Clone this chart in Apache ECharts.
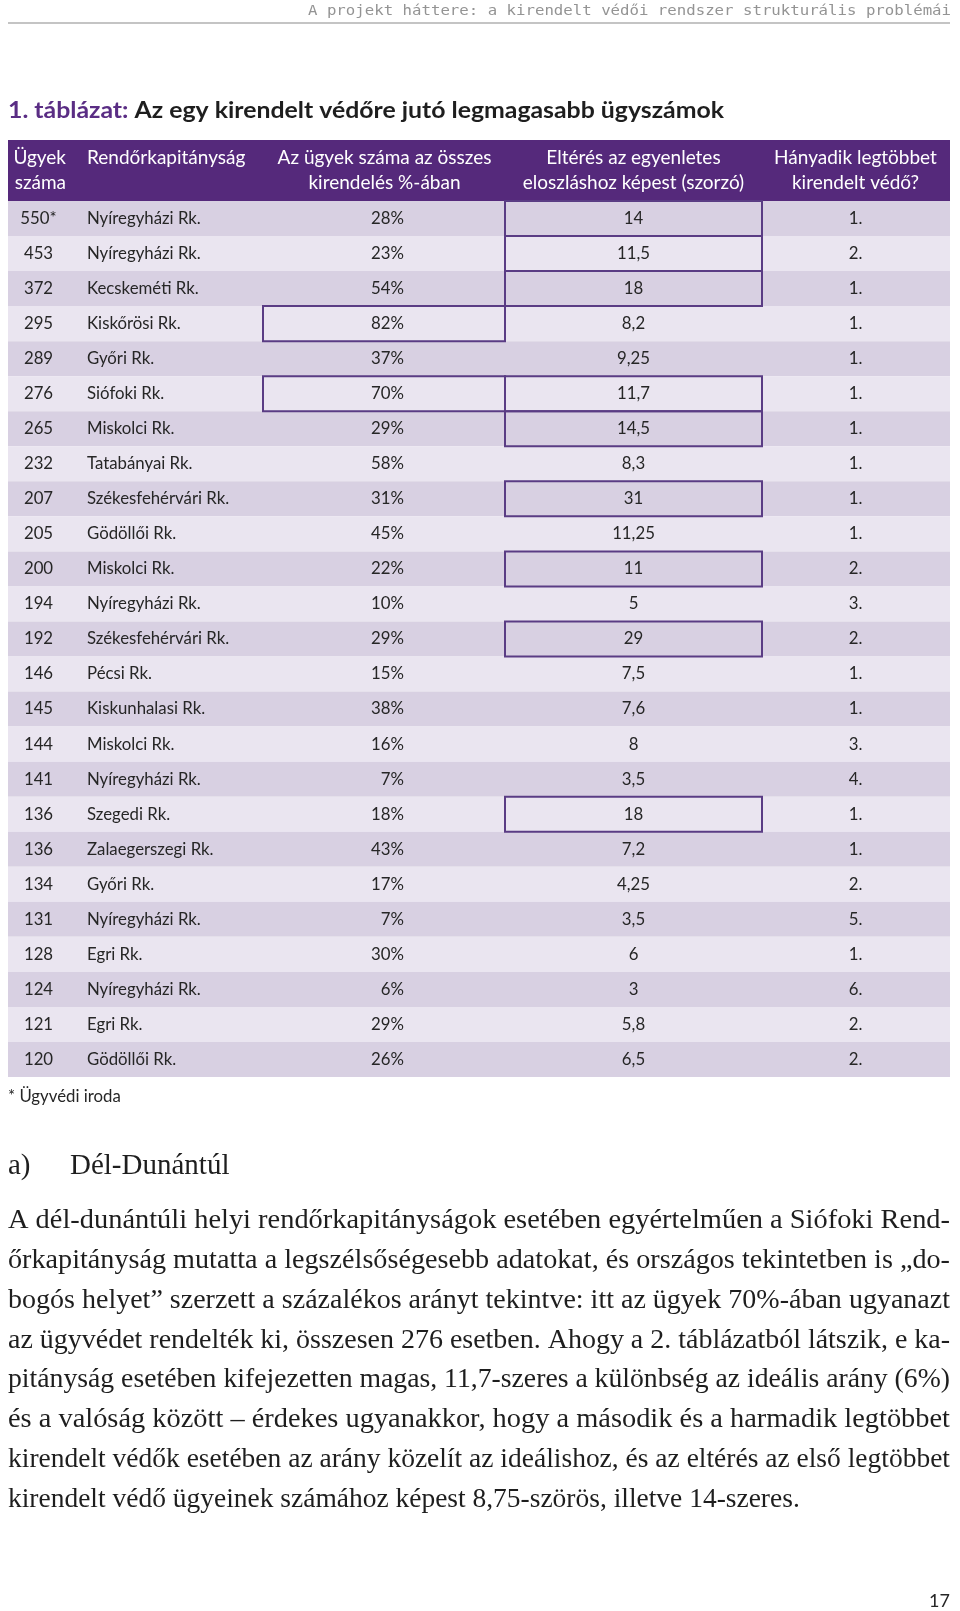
<!DOCTYPE html>
<html><head><meta charset="utf-8">
<script src="https://cdn.jsdelivr.net/npm/echarts@6/dist/echarts.min.js"></script>
<style>html,body{margin:0;padding:0;background:#fff}#c{width:960px;height:1611px}</style>
</head><body><div id="c"></div>
<script>
// ---- data ----
const caseCounts = ['550*','453','372','295','289','276','265','232','207','205','200','194','192','146','145','144','141','136','136','134','131','128','124','121','120'];
const stations = ['Nyíregyházi Rk.','Nyíregyházi Rk.','Kecskeméti Rk.','Kiskőrösi Rk.','Győri Rk.','Siófoki Rk.','Miskolci Rk.','Tatabányai Rk.','Székesfehérvári Rk.','Gödöllői Rk.','Miskolci Rk.','Nyíregyházi Rk.','Székesfehérvári Rk.','Pécsi Rk.','Kiskunhalasi Rk.','Miskolci Rk.','Nyíregyházi Rk.','Szegedi Rk.','Zalaegerszegi Rk.','Győri Rk.','Nyíregyházi Rk.','Egri Rk.','Nyíregyházi Rk.','Egri Rk.','Gödöllői Rk.'];
const sharePercent = [28,23,54,82,37,70,29,58,31,45,22,10,29,15,38,16,7,18,43,17,7,30,6,29,26];
const deviationFactor = [14,11.5,18,8.2,9.25,11.7,14.5,8.3,31,11.25,11,5,29,7.5,7.6,8,3.5,18,7.2,4.25,3.5,6,3,5.8,6.5];
const rankOrder = [1,2,1,1,1,1,1,1,1,1,2,3,2,1,1,3,4,1,1,2,5,1,6,2,2];
const boxedShareRows = [3,5];
const boxedDeviationRows = [0,1,2,5,6,8,10,12,17];
const headerLabels = ['Ügyek\nszáma','Rendőrkapitányság','Az ügyek száma az összes\nkirendelés %-ában','Eltérés az egyenletes\neloszláshoz képest (szorzó)','Hányadik legtöbbet\nkirendelt védő?'];

const runningHead = 'A projekt háttere: a kirendelt védői rendszer strukturális problémái';
const titleLead = '1. táblázat:';
const titleRest = ' Az egy kirendelt védőre jutó legmagasabb ügyszámok';
const footnote = '* Ügyvédi iroda';
const sectionMark = 'a)';
const sectionTitle = 'Dél-Dunántúl';
const paragraphLines = [
 'A dél-dunántúli helyi rendőrkapitányságok esetében egyértelműen a Siófoki Rend-',
 'őrkapitányság mutatta a legszélsőségesebb adatokat, és országos tekintetben is „do-',
 'bogós helyet” szerzett a százalékos arányt tekintve: itt az ügyek 70%-ában ugyanazt',
 'az ügyvédet rendelték ki, összesen 276 esetben. Ahogy a 2. táblázatból látszik, e ka-',
 'pitányság esetében kifejezetten magas, 11,7-szeres a különbség az ideális arány (6%)',
 'és a valóság között – érdekes ugyanakkor, hogy a második és a harmadik legtöbbet',
 'kirendelt védők esetében az arány közelít az ideálishoz, és az eltérés az első legtöbbet',
 'kirendelt védő ügyeinek számához képest 8,75-szörös, illetve 14-szeres.'
];
const pageNumber = '17';

// ---- styles / layout ----
const PURPLE = '#55297b', DARK = '#d8d0e2', LIGHT = '#eae5f0', BOX = '#5a3c84', INK = '#262626';
const SANS = 'Lato', SERIF = 'Liberation Serif';
const mctx = document.createElement('canvas').getContext('2d');
function tw(t, font){ mctx.font = font; return mctx.measureText(t).width; }
const fmt = v => String(v).replace('.', ',');

const chart = echarts.init(document.getElementById('c'), null, {renderer:'canvas', width:960, height:1611});

function cellText(t, x, y, align){
  return {type:'text', z2:5, style:{text:t, x:x, y:y, align:align, verticalAlign:'middle', fontFamily:SANS, fontSize:16.8, fill:INK}};
}

const graphics = [];
// running head
{
  const f = '14px "DejaVu Sans Mono"';
  const w = tw(runningHead, f);
  graphics.push({type:'text', x:951, y:11, scaleX:643/w, originX:0, style:{text:runningHead, x:0, y:0, align:'right', verticalAlign:'middle', font:f, fill:'#949494'}});
  graphics.push({type:'line', shape:{x1:8,y1:23,x2:950,y2:23}, style:{stroke:'#c4c4c4', lineWidth:2}});
}
// title
{
  const f = 'bold 22px Lato';
  const w = tw(titleLead + titleRest, f);
  const w1 = tw(titleLead, f);
  graphics.push({type:'group', x:8, y:111, scaleX:716/w, children:[
    {type:'text', style:{text:titleLead, x:0, y:0, verticalAlign:'middle', font:f, fill:'#5a2d84'}},
    {type:'text', style:{text:titleRest, x:w1, y:0, verticalAlign:'middle', font:f, fill:'#1e1e1e'}}
  ]});
}
// table header
graphics.push({type:'rect', shape:{x:8, y:140, width:942, height:61}, style:{fill:PURPLE}});
const hdr = (t, x, align, y) => ({type:'text', style:{text:t, x:x, y:y, align:align, verticalAlign:'middle', fontFamily:SANS, fontSize:19, lineHeight:25, fill:'#ffffff'}});
graphics.push(hdr(headerLabels[0], 66, 'right', 170.5));
graphics.push(hdr(headerLabels[1], 87, 'left', 158));
graphics.push(hdr(headerLabels[2], 384.5, 'center', 170.5));
graphics.push(hdr(headerLabels[3], 633.5, 'center', 170.5));
graphics.push(hdr(headerLabels[4], 855.5, 'center', 170.5));
// footnote
graphics.push({type:'text', style:{text:footnote, x:8, y:1097, verticalAlign:'middle', fontFamily:SANS, fontSize:16.8, fill:INK}});
// section heading
graphics.push({type:'text', style:{text:sectionMark, x:8, y:1166, verticalAlign:'middle', fontFamily:SERIF, fontSize:29, fill:'#1e1e1e'}});
graphics.push({type:'text', style:{text:sectionTitle, x:70, y:1166, verticalAlign:'middle', fontFamily:SERIF, fontSize:29, fill:'#1e1e1e'}});
// paragraph (justified lines)
{
  const lastW = 792; // width of the final line in the reference
  const base = tw(paragraphLines[7], '26px "' + SERIF + '"');
  const fs = 26 * lastW / base;
  const f = fs.toFixed(2) + 'px "' + SERIF + '"';
  const y0 = 1221, lh = 39.8;
  paragraphLines.forEach((ln, k) => {
    const w = tw(ln, f);
    const sx = k < paragraphLines.length - 1 ? 942 / w : 1;
    graphics.push({type:'text', x:8, y:y0 + k*lh, scaleX:sx, style:{text:ln, x:0, y:0, verticalAlign:'middle', font:f, fill:'#1e1e1e'}});
  });
}
// page number
graphics.push({type:'text', style:{text:pageNumber, x:950, y:1601, align:'right', verticalAlign:'middle', fontFamily:SANS, fontSize:18, fill:INK}});

const option = {
  animation:false,
  backgroundColor:'#ffffff',
  grid:{left:8, right:10, top:201, bottom:1611-1077, containLabel:false},
  xAxis:{type:'value', min:0, max:942, show:false},
  yAxis:{type:'category', inverse:true, show:false, data:caseCounts.map((_, i) => i)},
  graphic:graphics,
  series:[{
    type:'custom',
    clip:false,
    encode:{x:0, y:1},
    data:caseCounts.map((_, i) => [0, i]),
    renderItem:function(params, api){
      const i = api.value(1);
      const c = api.coord([0, i]);
      const h = api.size([0, 1])[1];
      const X = v => api.coord([v, i])[0];
      const top = c[1] - h/2;
      const ch = [
        {type:'rect', shape:{x:X(0), y:top, width:X(942)-X(0), height:h}, style:{fill: i % 2 === 0 ? DARK : LIGHT}},
        cellText(caseCounts[i], X(30.5), c[1], 'center'),
        cellText(stations[i], X(79), c[1], 'left'),
        cellText(sharePercent[i] + '%', X(396), c[1], 'right'),
        cellText(fmt(deviationFactor[i]), X(625.5), c[1], 'center'),
        cellText(rankOrder[i] + '.', X(847.5), c[1], 'center')
      ];
      if (boxedShareRows.indexOf(i) >= 0) ch.push({type:'rect', z2:10, shape:{x:X(255), y:top, width:X(497)-X(255), height:h}, style:{fill:null, stroke:BOX, lineWidth:2}});
      if (boxedDeviationRows.indexOf(i) >= 0) ch.push({type:'rect', z2:10, shape:{x:X(497), y:top, width:X(754)-X(497), height:h}, style:{fill:null, stroke:BOX, lineWidth:2}});
      return {type:'group', children:ch};
    }
  }]
};
chart.setOption(option);
</script></body></html>
